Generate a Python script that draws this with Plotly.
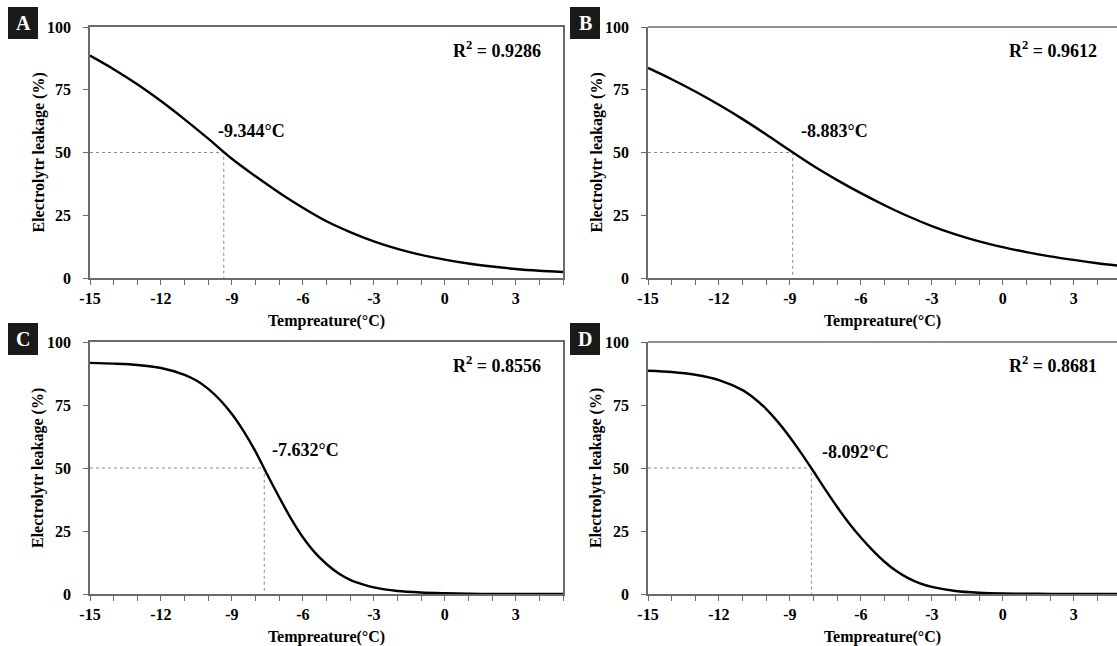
import plotly.graph_objects as go

# ---------------- data ----------------
temp_A = [-15, -14, -13, -12, -11, -10, -9, -8, -7, -6, -5, -4, -3, -2, -1, 0, 1, 2, 3, 4, 5]
leak_A = [88.6, 83.2, 77.2, 70.5, 63.2, 55.5, 47.5, 40.5, 34.0, 28.0, 22.6, 18.3, 14.6, 11.6, 9.2, 7.3, 5.8, 4.6, 3.6, 2.9, 2.4]

temp_B = [-15, -14, -13, -12, -11, -10, -9, -8, -7, -6, -5, -4, -3, -2, -1, 0, 1, 2, 3, 4, 5]
leak_B = [83.7, 79.2, 74.3, 69.0, 63.3, 57.2, 50.8, 44.6, 39.0, 33.8, 29.0, 24.6, 20.7, 17.4, 14.6, 12.3, 10.3, 8.6, 7.2, 5.9, 4.8]

temp_C = [-15, -14, -13, -12, -11, -10.5, -10, -9.5, -9, -8.5, -8, -7.5, -7, -6.5, -6, -5.5, -5, -4.5, -4, -3.5, -3, -2, -1, 0, 1, 2, 3, 4, 5]
leak_C = [91.7, 91.4, 90.9, 89.7, 87.0, 84.7, 81.4, 77.0, 71.4, 64.5, 56.5, 47.3, 38.4, 29.9, 22.5, 16.5, 11.9, 8.2, 5.6, 3.9, 2.6, 1.2, 0.6, 0.3, 0.1, 0.05, 0.02, 0.01, 0.0]

temp_D = [-15, -14, -13, -12, -11, -10.5, -10, -9.5, -9, -8.5, -8, -7.5, -7, -6.5, -6, -5.5, -5, -4.5, -4, -3.5, -3, -2, -1, 0, 1, 2, 3, 4, 5]
leak_D = [88.6, 88.1, 87.0, 84.9, 80.9, 77.6, 73.4, 68.2, 62.2, 55.6, 48.6, 41.4, 34.5, 28.1, 22.4, 17.3, 12.8, 9.1, 6.3, 4.2, 2.8, 1.2, 0.5, 0.2, 0.1, 0.05, 0.02, 0.01, 0.0]

panel_letters = ["A", "B", "C", "D"]
lt50_values = [-9.344, -8.883, -7.632, -8.092]
lt50_labels = ["-9.344°C", "-8.883°C", "-7.632°C", "-8.092°C"]
r2_labels = ["R<sup>2</sup> = 0.9286", "R<sup>2</sup> = 0.9612", "R<sup>2</sup> = 0.8556", "R<sup>2</sup> = 0.8681"]
y_ticks = [0, 25, 50, 75, 100]
x_ticks = [-15, -12, -9, -6, -3, 0, 3]
x_title = "Tempreature(°C)"
y_title = "Electrolytr leakage (%)"

temps = [temp_A, temp_B, temp_C, temp_D]
leaks = [leak_A, leak_B, leak_C, leak_D]

# ---------------- layout geometry (pixels) ----------------
W, H = 1117, 646
FONT = "Liberation Serif, Times New Roman, serif"
panels = [
    dict(x0=90, x1=563, y0=27, y1=278, xr=[-15, 5], right=True),
    dict(x0=648, x1=1117, y0=27, y1=278, xr=[-15, -15 + (1117 - 648) / 23.65], right=False),
    dict(x0=90, x1=563, y0=342, y1=594, xr=[-15, 5], right=True),
    dict(x0=648, x1=1117, y0=342, y1=594, xr=[-15, -15 + (1117 - 648) / 23.65], right=False),
]
label_pos = [(-9.67, 58.6), (-8.62, 58.6), (-7.39, 57.1), (-7.73, 56.4)]
box_pos = [(8, 7), (570, 7), (8, 323), (570, 323)]

fig = go.Figure()
layout = dict(
    width=W, height=H, margin=dict(l=0, r=0, t=0, b=0, autoexpand=False),
    paper_bgcolor="white", plot_bgcolor="white", showlegend=False,
    font=dict(family=FONT, color="black"),
)
shapes = []
annotations = []
axcol = "#6a6a6a"
bold16 = dict(family=FONT, size=16, color="black", weight="bold")

for i, p in enumerate(panels):
    n = "" if i == 0 else str(i + 1)
    xa, ya = "x" + n, "y" + n
    # dotted LT50 guides
    fig.add_trace(go.Scatter(x=[-15, lt50_values[i], lt50_values[i]], y=[50, 50, 0],
                             mode="lines", xaxis=xa, yaxis=ya,
                             line=dict(color="#8c8c8c", width=1, dash="dot"),
                             hoverinfo="skip"))
    # fitted curve
    fig.add_trace(go.Scatter(x=temps[i], y=leaks[i], mode="lines", xaxis=xa, yaxis=ya,
                             line=dict(color="black", width=2.4, shape="spline", smoothing=0.8)))
    layout["xaxis" + n] = dict(
        domain=[p["x0"] / W, p["x1"] / W], anchor=ya, range=p["xr"], automargin=False,
        tickmode="array", tickvals=x_ticks, ticktext=[str(v) for v in x_ticks],
        ticks="outside", ticklen=5, tickwidth=1, tickcolor=axcol,
        minor=dict(tickmode="linear", tick0=-15, dtick=1, ticks="outside", ticklen=5, tickcolor=axcol),
        showline=True, linecolor=axcol, linewidth=1.5, mirror=p["right"],
        showgrid=False, zeroline=False,
        tickfont=bold16,
        title=dict(text=x_title, standoff=9, font=bold16),
    )
    layout["yaxis" + n] = dict(
        domain=[1 - p["y1"] / H, 1 - p["y0"] / H], anchor=xa, range=[0, 100], automargin=False,
        tickmode="array", tickvals=y_ticks, showticklabels=False,
        ticks="outside", ticklen=5, tickwidth=1, tickcolor=axcol,
        showline=True, linecolor=axcol, linewidth=1.5, mirror=p["right"],
        showgrid=False, zeroline=False,
    )
    # y tick labels (placed a little further from the axis, as in the reference)
    for v in y_ticks:
        annotations.append(dict(x=(p["x0"] - 17) / W, y=v, xref="paper", yref=ya,
                                text=str(v), showarrow=False, xanchor="right", yanchor="middle",
                                font=bold16))
    # y-axis title as rotated text
    annotations.append(dict(x=(p["x0"] - 52) / W, y=1 - ((p["y0"] + p["y1"]) / 2) / H,
                            xref="paper", yref="paper", text=y_title, textangle=-90,
                            showarrow=False, xanchor="center", yanchor="middle", font=bold16))
    if not p["right"]:
        # top border without a right border (panel is cut by the page edge)
        shapes.append(dict(type="line", xref=xa + " domain", yref=ya + " domain",
                           x0=0, x1=1, y0=1, y1=1, line=dict(color=axcol, width=1.5)))
    # LT50 label
    annotations.append(dict(x=label_pos[i][0], y=label_pos[i][1], xref=xa, yref=ya,
                            text=lt50_labels[i], showarrow=False, xanchor="left", yanchor="middle",
                            font=dict(family=FONT, size=18, color="black", weight="bold")))
    # R2 label
    r_edge = (543 if p["right"] else 1099) - p["x0"]
    annotations.append(dict(x=r_edge / (p["x1"] - p["x0"]), y=91, xref=xa + " domain", yref=ya,
                            text=r2_labels[i], showarrow=False, xanchor="right", yanchor="middle",
                            font=dict(family=FONT, size=18, color="black", weight="bold")))
    # panel letter box
    bx, by = box_pos[i]
    shapes.append(dict(type="rect", xref="paper", yref="paper",
                       x0=bx / W, x1=(bx + 30) / W, y0=1 - (by + 32) / H, y1=1 - by / H,
                       fillcolor="#1a1a1a", line=dict(width=0)))
    annotations.append(dict(x=(bx + 15) / W, y=1 - (by + 16) / H, xref="paper", yref="paper",
                            text=panel_letters[i], showarrow=False, xanchor="center", yanchor="middle",
                            font=dict(family=FONT, size=20, color="white", weight="bold")))

layout["shapes"] = shapes
layout["annotations"] = annotations
fig.update_layout(**layout)
fig.write_html("out.html")
